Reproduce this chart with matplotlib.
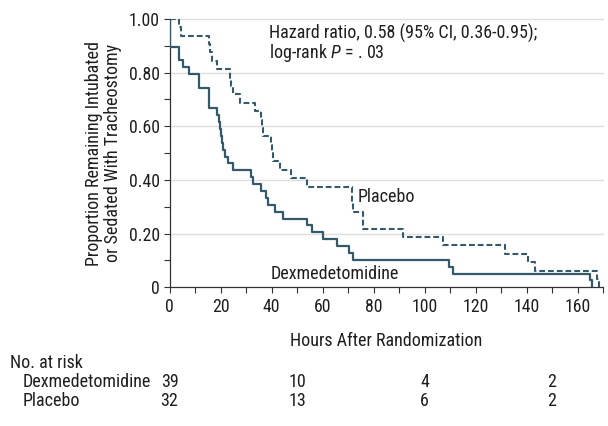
import matplotlib
matplotlib.use("Agg")
import matplotlib.pyplot as plt
from matplotlib import font_manager
from matplotlib.ticker import MultipleLocator

## survival curves (hours, proportion)
dex_hours = [0, 0, 3.7, 5.4, 7.6, 11.7, 15.6, 18.8, 19.4, 19.8, 20.2, 20.6, 21.1, 21.8,
             23.1, 24.8, 31.8, 32.9, 35.7, 37.8, 38.8, 41.4, 44.6, 54.0, 55.7, 60.1,
             65.5, 70.5, 71.8, 109.7, 111.3, 164.9, 165.8]
dex_surv = [1.0, 0.897, 0.846, 0.821, 0.795, 0.744, 0.667, 0.641, 0.615, 0.590, 0.564, 0.538,
            0.513, 0.487, 0.462, 0.436, 0.410, 0.385, 0.359, 0.333, 0.308, 0.282, 0.256,
            0.231, 0.205, 0.179, 0.154, 0.128, 0.103, 0.077, 0.051, 0.026, 0.0]

pla_hours = [0, 3.7, 4.5, 15.6, 15.8, 16.5, 18.6, 23.7, 24.3, 24.8, 27.7, 33.6, 35.7, 36.1,
             36.5, 39.7, 40.2, 40.7, 43.3, 47.6, 54.0, 71.4, 71.6, 71.8, 75.7, 75.9, 91.7,
             107.4, 131.6, 140.7, 143.3, 167.5, 168.3]
pla_surv = [1.0, 0.969, 0.938, 0.906, 0.875, 0.844, 0.812, 0.781, 0.750, 0.719, 0.688, 0.656,
            0.625, 0.594, 0.5625, 0.531, 0.500, 0.469, 0.4375, 0.406, 0.375, 0.344, 0.3125,
            0.281, 0.250, 0.219, 0.1875, 0.156, 0.125, 0.094, 0.0625, 0.031, 0.0]

## number at risk table
risk_hours = [0, 50, 100, 150]
risk_groups = ["Dexmedetomidine", "Placebo"]
risk_dex = [39, 10, 4, 2]
risk_pla = [32, 13, 6, 2]

x_ticks = [0, 20, 40, 60, 80, 100, 120, 140, 160]
y_ticks = [0, 0.2, 0.4, 0.6, 0.8, 1.0]
y_ticklabels = ["0", "0.20", "0.40", "0.60", "0.80", "1.00"]

LINE = "#345a6a"
TEXT = "#1e1e1e"
FS = 13

## narrow font if there is one, else Roboto (narrower than DejaVu)
names = set(f.name for f in font_manager.fontManager.ttflist)
FONT = "Roboto"
for cand in ["Liberation Sans Narrow", "Roboto Condensed", "Open Sans Condensed"]:
    if cand in names:
        FONT = cand
        break

plt.rcParams["font.family"] = [FONT, "DejaVu Sans"]
plt.rcParams["mathtext.fontset"] = "custom"
plt.rcParams["mathtext.it"] = FONT + ":italic"
plt.rcParams["mathtext.rm"] = FONT


def draw_curves(ax):
    ax.step(dex_hours, dex_surv, where="post", color=LINE, lw=1.6, zorder=3)
    ax.step(pla_hours, pla_surv, where="post", color=LINE, lw=1.5,
            dashes=(2.8, 1.4), zorder=3)


def style_axes(ax):
    ax.set_xlim(0, 170)
    ax.set_ylim(0, 1.0)
    for s in ["top", "right"]:
        ax.spines[s].set_visible(False)
    for s in ["left", "bottom"]:
        ax.spines[s].set_color("#333333")
        ax.spines[s].set_linewidth(0.9)
    ax.set_xticks(x_ticks)
    ax.xaxis.set_minor_locator(MultipleLocator(10))
    ax.set_yticks(y_ticks)
    ax.set_yticklabels(y_ticklabels)
    ax.yaxis.set_minor_locator(MultipleLocator(0.1))
    ax.tick_params(which="both", direction="out", length=4, width=0.8,
                   color="#333333", labelsize=12.8, labelcolor=TEXT)
    ax.tick_params(axis="x", pad=4)
    ax.tick_params(axis="y", pad=3)
    for v in y_ticks[1:]:
        ax.axhline(v, color="#dedede", lw=1.0, zorder=1, clip_on=False)
    ax.set_xlabel("Hours After Randomization", fontsize=FS, color=TEXT, labelpad=11)
    ax.set_ylabel("Proportion Remaining Intubated\nor Sedated With Tracheostomy",
                  fontsize=FS, color=TEXT, labelpad=5, linespacing=1.05)


def main():
    fig = plt.figure(figsize=(6.08, 4.26), dpi=100)
    ax = fig.add_axes([0.2788, 0.3256, 0.713, 0.630])
    draw_curves(ax)
    style_axes(ax)

    ax.text(39.2, 0.945, "Hazard ratio, 0.58 (95% CI, 0.36-0.95);", fontsize=FS,
            color=TEXT, va="center")
    ax.text(39.2, 0.874, "log-rank $P$ = . 03", fontsize=FS, color=TEXT, va="center")
    ax.text(73.8, 0.338, "Placebo", fontsize=FS, color=TEXT, va="center")
    ax.text(39.8, 0.05, "Dexmedetomidine", fontsize=FS, color=TEXT, va="center")

    ## at risk table under the axis
    fig.text(10 / 608, 1 - 363 / 426, "No. at risk", fontsize=FS, color=TEXT, va="center")
    for i, (name, counts) in enumerate(zip(risk_groups, [risk_dex, risk_pla])):
        y = 1 - (382 + 19 * i) / 426
        fig.text(23 / 608, y, name, fontsize=FS, color=TEXT, va="center")
        for h, n in zip(risk_hours, counts):
            xf, _ = fig.transFigure.inverted().transform(ax.transData.transform((h, 0)))
            fig.text(xf, y, str(n), fontsize=FS, color=TEXT, va="center", ha="center")

    fig.savefig("out.png", dpi=100)


if __name__ == '__main__':
    main()
